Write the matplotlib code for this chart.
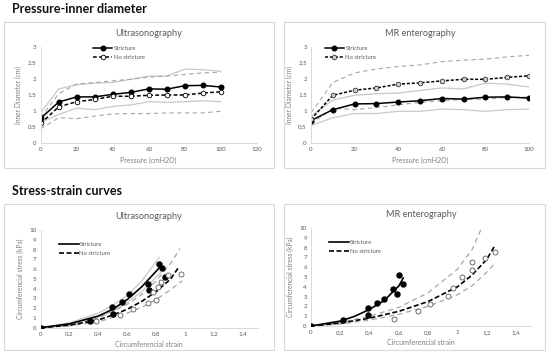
import numpy as np
import matplotlib
matplotlib.use('Agg')
import matplotlib.pyplot as plt
from matplotlib.patches import Rectangle

# ============================================================
# Data - pressure / inner diameter
# ============================================================

pressure = [0, 10, 20, 30, 40, 50, 60, 70, 80, 90, 100]

us_str = [0.78, 1.29, 1.45, 1.45, 1.53, 1.59, 1.70, 1.69, 1.80, 1.81, 1.76]
us_str_hi = [0.95, 1.70, 1.83, 1.88, 1.90, 2.00, 2.10, 2.10, 2.32, 2.30, 2.25]
us_str_lo = [0.65, 0.90, 1.10, 1.05, 1.15, 1.20, 1.30, 1.28, 1.30, 1.33, 1.30]
us_no = [0.62, 1.14, 1.30, 1.37, 1.47, 1.47, 1.50, 1.51, 1.51, 1.57, 1.61]
us_no_hi = [0.80, 1.55, 1.85, 1.90, 1.95, 2.00, 2.07, 2.10, 2.15, 2.20, 2.22]
us_no_lo = [0.45, 0.80, 0.77, 0.85, 0.92, 0.93, 0.93, 0.95, 0.95, 0.95, 1.00]

mr_str = [0.71, 1.05, 1.23, 1.24, 1.29, 1.33, 1.40, 1.38, 1.44, 1.45, 1.41]
mr_str_hi = [0.85, 1.35, 1.50, 1.55, 1.57, 1.65, 1.73, 1.70, 1.88, 1.85, 1.76]
mr_str_lo = [0.55, 0.80, 0.93, 0.93, 1.00, 1.00, 1.07, 1.05, 1.00, 1.05, 1.07]
mr_no = [0.75, 1.50, 1.66, 1.73, 1.85, 1.89, 1.95, 2.00, 2.00, 2.06, 2.11]
mr_no_hi = [0.95, 1.90, 2.20, 2.32, 2.40, 2.45, 2.55, 2.60, 2.63, 2.70, 2.75]
mr_no_lo = [0.60, 1.10, 1.05, 1.12, 1.20, 1.28, 1.33, 1.37, 1.38, 1.43, 1.45]

# ============================================================
# Data - stress / strain
# ============================================================

us_pts_str_x = [0, 0.34, 0.49, 0.50, 0.565, 0.61, 0.74, 0.75, 0.816, 0.84, 0.86]
us_pts_str_y = [0, 0.72, 2.08, 1.37, 2.66, 3.45, 4.47, 3.86, 6.52, 6.14, 5.22]
us_pts_no_x = [0.38, 0.55, 0.64, 0.74, 0.80, 0.78, 0.81, 0.83, 0.88, 0.97]
us_pts_no_y = [0.72, 1.30, 1.95, 2.56, 2.83, 3.69, 4.16, 4.71, 5.36, 5.46]

us_fit_str_x = [0, 0.2, 0.4, 0.5, 0.6, 0.7, 0.8, 0.83]
us_fit_str_y = [0, 0.4, 1.2, 1.9, 2.9, 4.2, 5.8, 6.3]
us_fit_str_hi_x = [0, 0.2, 0.4, 0.5, 0.6, 0.7, 0.82]
us_fit_str_hi_y = [0, 0.5, 1.5, 2.3, 3.3, 4.8, 7.2]
us_fit_str_lo_x = [0, 0.2, 0.4, 0.5, 0.6, 0.7, 0.8, 0.84]
us_fit_str_lo_y = [0, 0.35, 1.1, 1.7, 2.6, 3.7, 5.2, 5.8]
us_fit_no_x = [0, 0.2, 0.4, 0.5, 0.6, 0.7, 0.8, 0.9, 0.955]
us_fit_no_y = [0, 0.25, 0.8, 1.3, 1.9, 2.7, 3.7, 5.0, 6.2]
us_fit_no_hi_x = [0, 0.2, 0.4, 0.6, 0.7, 0.8, 0.9, 0.965]
us_fit_no_hi_y = [0, 0.3, 1.0, 2.4, 3.4, 4.8, 6.6, 8.1]
us_fit_no_lo_x = [0, 0.2, 0.4, 0.6, 0.7, 0.8, 0.9, 0.98]
us_fit_no_lo_y = [0, 0.2, 0.6, 1.5, 2.1, 2.9, 3.9, 4.8]

mr_pts_str_x = [0, 0.22, 0.39, 0.39, 0.45, 0.50, 0.56, 0.59, 0.60, 0.63]
mr_pts_str_y = [0, 0.65, 1.80, 1.16, 2.32, 2.76, 3.75, 3.24, 5.22, 4.27]
mr_pts_no_x = [0.57, 0.73, 0.81, 0.935, 0.97, 1.03, 1.10, 1.10, 1.19, 1.255]
mr_pts_no_y = [0.72, 1.54, 2.25, 3.07, 3.92, 4.98, 6.52, 5.67, 6.93, 7.58]

mr_fit_str_x = [0, 0.2, 0.3, 0.4, 0.5, 0.6, 0.63]
mr_fit_str_y = [0, 0.5, 1.0, 1.7, 2.6, 4.1, 4.9]
mr_fit_no_x = [0, 0.2, 0.4, 0.6, 0.8, 1.0, 1.1, 1.2, 1.255]
mr_fit_no_y = [0, 0.3, 0.8, 1.5, 2.5, 4.0, 5.2, 6.8, 8.2]
mr_fit_no_hi_x = [0, 0.2, 0.4, 0.6, 0.8, 1.0, 1.1, 1.165]
mr_fit_no_hi_y = [0, 0.35, 1.0, 1.9, 3.4, 5.8, 7.8, 10.0]
mr_fit_no_lo_x = [0, 0.2, 0.4, 0.6, 0.8, 1.0, 1.1, 1.2, 1.255]
mr_fit_no_lo_y = [0, 0.2, 0.6, 1.2, 2.0, 3.2, 4.1, 5.5, 6.4]

# ============================================================
# Style
# ============================================================

plt.rcParams['font.family'] = ['Lato', 'DejaVu Sans']
TXT = '#595959'
AX = '#d9d9d9'
G_SOLID = '#c8c8c8'
G_DASH = '#a6a6a6'

W, H = 550, 355
fig = plt.figure(figsize=(5.5, 3.55), dpi=100)


def px_axes(x0, x1, y_top, y_bot):
    return fig.add_axes([x0 / W, 1 - y_bot / H, (x1 - x0) / W, (y_bot - y_top) / H])


def box(x0, y0, x1, y1):
    fig.patches.append(Rectangle((x0 / W, 1 - y1 / H), (x1 - x0) / W, (y1 - y0) / H,
                                 transform=fig.transFigure, fill=False,
                                 edgecolor=AX, lw=0.8))


def style(ax, title, xlabel, ylabel):
    for s in ['top', 'right']:
        ax.spines[s].set_visible(False)
    for s in ['left', 'bottom']:
        ax.spines[s].set_color(AX)
        ax.spines[s].set_linewidth(0.7)
    ax.tick_params(length=0, labelsize=4.4, colors=TXT, pad=3)
    ax.set_title(title, fontsize=6.6, color=TXT, pad=8)
    ax.set_xlabel(xlabel, fontsize=5, color='#7f7f7f', labelpad=3)
    ax.set_ylabel(ylabel, fontsize=4.8, color='#7f7f7f', labelpad=4)
    ax.patch.set_alpha(0)


fig.text(12 / W, 1 - 9 / H, 'Pressure-inner diameter', fontsize=9,
         fontweight='bold', va='center', ha='left', color='#111111')
fig.text(12 / W, 1 - 191 / H, 'Stress-strain curves', fontsize=9,
         fontweight='bold', va='center', ha='left', color='#111111')

box(4, 22, 274, 168)
box(284, 22, 545, 168)
box(4, 204, 274, 350)
box(284, 204, 545, 350)

# ------------------------------------------------------------
# Pressure - Ultrasonography
# ------------------------------------------------------------

ax1 = px_axes(40.7, 256.7, 47.3, 143.3)
ax1.plot(pressure, us_str_hi, color=G_SOLID, lw=0.9)
ax1.plot(pressure, us_str_lo, color=G_SOLID, lw=0.9)
ax1.plot(pressure, us_no_hi, color=G_DASH, lw=0.8, dashes=(4, 3))
ax1.plot(pressure, us_no_lo, color=G_DASH, lw=0.8, dashes=(4, 3))
ax1.plot(pressure, us_str, color='black', lw=1.1, marker='o', ms=3.3, label='Stricture')
ax1.plot(pressure, us_no, color='black', lw=1.1, dashes=(2.5, 1.5), marker='o', ms=3.3,
         mfc='white', mec='black', mew=0.6, label='No stricture')
ax1.set_xlim(0, 120)
ax1.set_ylim(0, 3)
ax1.set_xticks(range(0, 121, 20))
ax1.set_yticks([0, 0.5, 1, 1.5, 2, 2.5, 3])
ax1.set_yticklabels(['0', '0.5', '1', '1.5', '2', '2.5', '3'])
style(ax1, 'Ultrasonography', 'Pressure (cmH2O)', 'Inner Diameter (cm)')
ax1.legend(loc='upper left', bbox_to_anchor=(0.22, 1.07), fontsize=4.2, frameon=False,
           handlelength=3.2, handletextpad=0.3, labelspacing=0.7, labelcolor=TXT)

# ------------------------------------------------------------
# Pressure - MR enterography
# ------------------------------------------------------------

ax2 = px_axes(311, 529, 47.3, 143.3)
ax2.plot(pressure, mr_str_hi, color=G_SOLID, lw=0.9)
ax2.plot(pressure, mr_str_lo, color=G_SOLID, lw=0.9)
ax2.plot(pressure, mr_no_hi, color=G_DASH, lw=0.8, dashes=(4, 3))
ax2.plot(pressure, mr_no_lo, color=G_DASH, lw=0.8, dashes=(4, 3))
ax2.plot(pressure, mr_str, color='black', lw=1.1, marker='o', ms=3.3, label='Stricture')
ax2.plot(pressure, mr_no, color='black', lw=1.1, dashes=(2, 1.2), marker='o', ms=3.3,
         mfc='#d0d0d0', mec='#333333', mew=0.6, label='No stricture')
ax2.set_xlim(0, 100)
ax2.set_ylim(0, 3)
ax2.set_xticks(range(0, 101, 20))
ax2.set_yticks([0, 0.5, 1, 1.5, 2, 2.5, 3])
ax2.set_yticklabels(['0', '0.5', '1', '1.5', '2', '2.5', '3'])
style(ax2, 'MR enterography', 'Pressure (cmH2O)', 'Inner Diameter (cm)')
ax2.legend(loc='upper left', bbox_to_anchor=(0.04, 1.07), fontsize=4.2, frameon=False,
           handlelength=3.2, handletextpad=0.3, labelspacing=0.7, labelcolor=TXT)

# ------------------------------------------------------------
# Stress-strain - Ultrasonography
# ------------------------------------------------------------

ax3 = px_axes(40.7, 257.5, 230, 327.7)
ax3.plot(us_fit_str_hi_x, us_fit_str_hi_y, color=G_SOLID, lw=0.9)
ax3.plot(us_fit_str_lo_x, us_fit_str_lo_y, color=G_SOLID, lw=0.9)
ax3.plot(us_fit_no_hi_x, us_fit_no_hi_y, color=G_DASH, lw=0.9, dashes=(4, 3))
ax3.plot(us_fit_no_lo_x, us_fit_no_lo_y, color=G_DASH, lw=0.9, dashes=(4, 3))
ax3.plot(us_fit_str_x, us_fit_str_y, color='black', lw=1.2, label='Stricture')
ax3.plot(us_fit_no_x, us_fit_no_y, color='black', lw=1.2, dashes=(3, 1.5), label='No stricture')
ax3.scatter(us_pts_str_x, us_pts_str_y, s=13, color='black', zorder=3)
ax3.scatter(us_pts_no_x, us_pts_no_y, s=13, facecolor='white', edgecolor='#595959',
            lw=0.6, zorder=3)
ax3.set_xlim(0, 1.5)
ax3.set_ylim(0, 10)
ax3.set_xticks([0, 0.2, 0.4, 0.6, 0.8, 1, 1.2, 1.4])
ax3.set_xticklabels(['0', '0.2', '0.4', '0.6', '0.8', '1', '1.2', '1.4'])
ax3.set_yticks(range(0, 11))
style(ax3, 'Ultrasonography', 'Circumferencial strain', 'Circumferencial stress (kPa)')
ax3.legend(loc='upper left', bbox_to_anchor=(0.06, 0.93), fontsize=4.2, frameon=False,
           handlelength=3.4, handletextpad=0.1, labelspacing=0.6, labelcolor=TXT)

# ------------------------------------------------------------
# Stress-strain - MR enterography
# ------------------------------------------------------------

ax4 = px_axes(311, 530.7, 228, 326)
ax4.plot(mr_fit_no_hi_x, mr_fit_no_hi_y, color=G_DASH, lw=0.9, dashes=(4, 3))
ax4.plot(mr_fit_no_lo_x, mr_fit_no_lo_y, color=G_DASH, lw=0.9, dashes=(4, 3))
ax4.plot(mr_fit_str_x, mr_fit_str_y, color='black', lw=1.2, label='Stricture')
ax4.plot(mr_fit_no_x, mr_fit_no_y, color='black', lw=1.2, dashes=(3, 1.5), label='No stricture')
ax4.scatter(mr_pts_str_x, mr_pts_str_y, s=13, color='black', zorder=3)
ax4.scatter(mr_pts_no_x, mr_pts_no_y, s=13, facecolor='white', edgecolor='#595959',
            lw=0.6, zorder=3)
ax4.set_xlim(0, 1.5)
ax4.set_ylim(0, 10)
ax4.set_xticks([0, 0.2, 0.4, 0.6, 0.8, 1, 1.2, 1.4])
ax4.set_xticklabels(['0', '0,2', '0,4', '0,6', '0,8', '1', '1,2', '1,4'])
ax4.set_yticks(range(0, 11))
style(ax4, 'MR enterography', 'Circumferencial strain', 'Circumferencial stress (kPa)')
ax4.legend(loc='upper left', bbox_to_anchor=(0.06, 0.93), fontsize=4.2, frameon=False,
           handlelength=3.4, handletextpad=0.1, labelspacing=0.6, labelcolor=TXT)

fig.savefig('out.png', dpi=100)
